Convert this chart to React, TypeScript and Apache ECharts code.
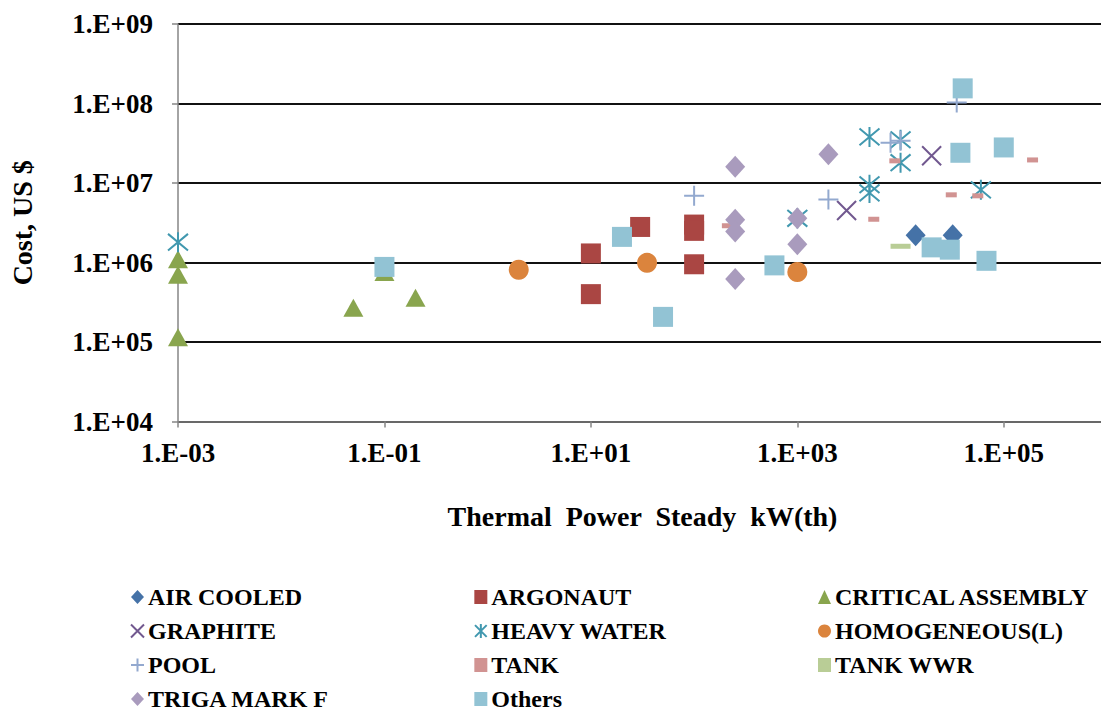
import React, { useEffect, useRef } from "react";
import * as echarts from "echarts";

// Reactor groups: [thermal power kW(th), cost US $]
const airCooled = [[1.4e4, 2.2e6], [3.2e4, 2.2e6]];
const argonaut = [[10, 1.3e6], [10, 4.0e5], [30, 2.8e6], [100, 3.0e6], [100, 2.5e6], [100, 9.5e5]];
const criticalAssembly = [[1e-3, 1.1e6], [1e-3, 7.0e5], [1e-3, 1.15e5], [0.05, 2.7e5], [0.2, 3.6e5], [0.1, 7.6e5]];
const graphite = [[3e3, 4.5e6], [2e4, 2.2e7]];
const heavyWater = [[1e-3, 1.8e6], [1e3, 3.6e6], [5e3, 3.8e7], [5e3, 9.5e6], [5e3, 7.5e6], [1e4, 3.5e7], [1e4, 1.8e7], [6e4, 8.2e6]];
const homogeneous = [[2, 8.1e5], [35, 9.9e5], [1000, 7.6e5]];
const pool = [[100, 6.9e6], [2000, 6.2e6], [8000, 3.2e7], [1e4, 3.4e7], [3.5e4, 1.03e8]];
const tank = [[210, 2.9e6], [5.5e3, 3.5e6], [8.8e3, 1.9e7], [3.1e4, 7.1e6], [5.6e4, 6.9e6], [1.9e5, 1.95e7]];
const tankWwr = [[1e4, 1.6e6]];
const trigaMarkF = [[250, 1.6e7], [250, 3.45e6], [250, 2.45e6], [250, 6.2e5], [1000, 3.6e6], [1000, 1.7e6], [2000, 2.3e7]];
const others = [[0.1, 8.8e5], [20, 2.1e6], [50, 2.07e5], [600, 9.2e5], [4e4, 1.55e8], [3.8e4, 2.4e7], [1e5, 2.8e7], [2e4, 1.55e6], [3e4, 1.45e6], [6.8e4, 1.05e6]];

const legendColumns = [
  ["AIR COOLED", "GRAPHITE", "POOL", "TRIGA MARK F"],
  ["ARGONAUT", "HEAVY WATER", "TANK", "Others"],
  ["CRITICAL ASSEMBLY", "HOMOGENEOUS(L)", "TANK WWR"],
];

const FONT = "Liberation Serif";

const CROSS = "path://M0,0L20,20M20,0L0,20";
const ASTERISK = "path://M0,0L20,20M20,0L0,20M10,-2L10,22";
const PLUS = "path://M10,0L10,20M0,10L20,10";

function expLabel(v: number) {
  const e = Math.round(Math.log10(v));
  const sign = e < 0 ? "-" : "+";
  return "1.E" + sign + String(Math.abs(e)).padStart(2, "0");
}

function filled(name: string, data: number[][], symbol: string, size: any, color: string) {
  return {
    name,
    type: "scatter",
    data,
    symbol,
    symbolSize: size,
    itemStyle: { color, opacity: 1 },
  };
}

function stroked(name: string, data: number[][], symbol: string, size: number, color: string) {
  return {
    name,
    type: "scatter",
    data,
    symbol,
    symbolSize: size,
    itemStyle: { color: "rgba(0,0,0,0)", borderColor: color, borderWidth: 2, opacity: 1 },
  };
}

export default function App() {
  const ref = useRef<HTMLDivElement>(null);

  useEffect(() => {
    document.body.style.margin = "0";
    document.body.style.overflow = "hidden";
    if (!ref.current) return;
    const chart = echarts.init(ref.current, undefined, { renderer: "svg" });

    const axisGray = "#868686";
    const tickFont = { fontFamily: FONT, fontWeight: "bold", fontSize: 27, color: "#000" };
    const titleFont = { fontFamily: FONT, fontWeight: "bold", fontSize: 28, color: "#000" };

    chart.setOption({
      animation: false,
      backgroundColor: "#fff",
      textStyle: { fontFamily: FONT },
      grid: { left: 177, top: 24, width: 930, height: 397.5, containLabel: false },
      xAxis: {
        type: "log",
        logBase: 10,
        min: 1e-3,
        max: 1e6,
        interval: 2,
        name: "Thermal  Power  Steady  kW(th)",
        nameLocation: "middle",
        nameGap: 81,
        nameTextStyle: titleFont,
        axisLine: { show: true, lineStyle: { color: axisGray, width: 1.5 } },
        axisTick: { show: true, length: 6, lineStyle: { color: axisGray, width: 1.5 } },
        minorTick: { show: false },
        splitLine: { show: false },
        axisLabel: {
          ...tickFont,
          margin: 18,
          formatter: (v: number) => (Math.round(Math.log10(v)) > 5 ? "" : expLabel(v)),
        },
      },
      yAxis: {
        type: "log",
        logBase: 10,
        min: 1e4,
        max: 1e9,
        name: "Cost, US $",
        nameLocation: "middle",
        nameGap: 142,
        nameTextStyle: titleFont,
        axisLine: { show: true, lineStyle: { color: axisGray, width: 1.5 } },
        axisTick: { show: true, length: 6, lineStyle: { color: axisGray, width: 1.5 } },
        splitLine: { show: true, lineStyle: { color: "#111", width: 2 } },
        axisLabel: { ...tickFont, margin: 25, formatter: expLabel },
      },
      legend: legendColumns.map((names, i) => ({
        orient: "vertical",
        left: [130, 474, 818][i],
        top: 585,
        height: 200,
        itemWidth: 13,
        itemHeight: 14,
        itemGap: 10,
        padding: 0,
        data: names,
        textStyle: { fontFamily: FONT, fontWeight: "bold", fontSize: 24, color: "#000", padding: [0, 0, 0, -1] },
      })),
      series: [
        filled("AIR COOLED", airCooled, "diamond", [20, 22], "#4572A7"),
        filled("ARGONAUT", argonaut, "rect", 20, "#AA4643"),
        filled("CRITICAL ASSEMBLY", criticalAssembly, "triangle", [20, 18], "#89A54E"),
        stroked("GRAPHITE", graphite, CROSS, 19, "#71588F"),
        stroked("HEAVY WATER", heavyWater, ASTERISK, 20, "#4198AF"),
        filled("HOMOGENEOUS(L)", homogeneous, "circle", 20, "#DB843D"),
        stroked("POOL", pool, PLUS, 20, "#93A9CF"),
        filled("TANK", tank, "rect", [11, 5], "#D19392"),
        filled("TANK WWR", tankWwr, "rect", [20, 5], "#B9CD96"),
        filled("TRIGA MARK F", trigaMarkF, "diamond", [20, 22], "#A99BBD"),
        filled("Others", others, "rect", 20, "#92C3D4"),
      ],
    });

    return () => chart.dispose();
  }, []);

  return <div ref={ref} style={{ width: 1110, height: 711 }} />;
}
